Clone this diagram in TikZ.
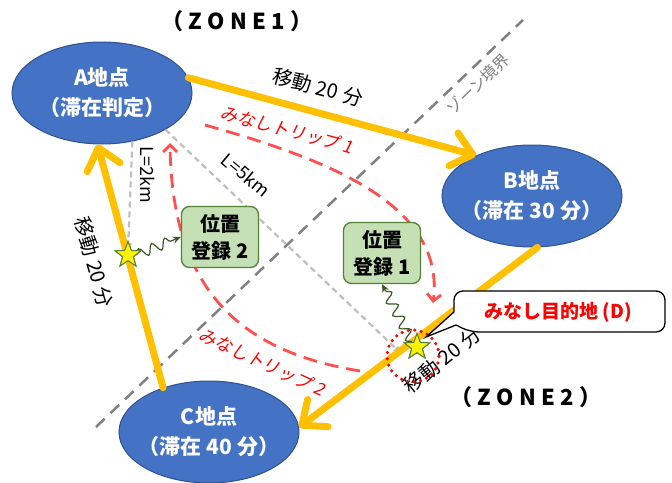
\documentclass[tikz,border=0pt]{standalone}
\usepackage{fontspec}
\setmainfont{Noto Sans CJK JP}
\newfontfamily\jpsl[FakeSlant=0.18]{Noto Sans CJK JP}
\newfontfamily\jpsp[LetterSpace=25]{Noto Sans CJK JP}
\usetikzlibrary{arrows.meta,shapes.geometric,decorations.pathmorphing}
\definecolor{ellfill}{HTML}{4472C4}
\definecolor{elldraw}{HTML}{2F528F}
\definecolor{moveyellow}{HTML}{FFC000}
\definecolor{boxfill}{HTML}{C5E0B4}
\definecolor{boxdraw}{HTML}{548235}
\definecolor{snakegreen}{HTML}{385723}
\definecolor{tripred}{HTML}{FF5050}
\definecolor{zonegray}{HTML}{808080}
\definecolor{lgray}{HTML}{BFBFBF}
\newcommand{\gap}{\hspace{5pt}}
\begin{document}
\begin{tikzpicture}[x=1pt,y=-1pt,
  place/.style={ellipse, fill=ellfill, draw=elldraw, line width=1pt, minimum width=180pt, minimum height=102pt, inner xsep=-20pt, inner ysep=0pt, text=white, font=\bfseries\fontsize{21}{30}\selectfont, align=center},
  regbox/.style={rectangle, rounded corners=8pt, fill=boxfill, draw=boxdraw, line width=1.3pt, minimum width=77pt, minimum height=61pt, inner sep=0pt, font=\bfseries\fontsize{20}{27}\selectfont, align=center},
  starmark/.style={star, star points=5, star point ratio=2.4, fill=yellow, draw=boxdraw, line width=1pt, minimum size=27pt, inner sep=0pt},
  move/.style={draw=moveyellow, line width=7pt, line cap=round, line join=round, -{Straight Barb[length=20pt,width=34pt,line cap=round,line join=round]}},
  movelabel/.style={font=\fontsize{20}{23}\selectfont, inner sep=0pt},
  zoneline/.style={draw=zonegray, line width=2.5pt, dash pattern=on 12pt off 8pt},
  distline/.style={draw=lgray, line width=2.2pt, dash pattern=on 6pt off 4pt, -{Triangle[length=7pt,width=7pt]}},
  trip/.style={draw=tripred, line width=2.8pt, dash pattern=on 14pt off 8pt, -{Straight Barb[length=7pt,width=14pt]}},
  triplabel/.style={text=red, font=\jpsl\fontsize{17.5}{19}\selectfont, inner sep=0pt},
  wave/.style={draw=snakegreen, line width=1.2pt, decorate, decoration={snake, amplitude=5pt, segment length=14pt, post length=6pt}, -{Stealth[length=8pt,width=7pt]}},
  title/.style={font=\jpsp\bfseries\fontsize{22}{24}\selectfont, inner sep=0pt}
]
\useasboundingbox (0,0) rectangle (672,482);

% zone boundary
\coordinate (zt) at (523,20);
\coordinate (zb) at (96,427);
\draw[zoneline] (zb) -- (zt);
\node[text=zonegray, font=\fontsize{16}{18}\selectfont, rotate=44, inner sep=0pt] (zl) at (478,84) {ゾーン境界};

% places
\node[place] (A) at (102,93) {A地点\\（滞在判定）};
\node[place] (B) at (532,196) {B地点\\（滞在\gap 30\gap 分）};
\node[place] (C) at (209,432) {C地点\\（滞在\gap 40\gap 分）};

% stars
\node[starmark] (s2) at (128,255) {};
\node[starmark] (s1) at (417,347) {};

% distance lines
\draw[distline] (A.-58) -- ([yshift=-10pt]s2.north);
\draw[distline] (A.-30) -- ([shift={(-8pt,-6pt)}]s1.west);
\node[font=\fontsize{18}{20}\selectfont, rotate=-90, inner sep=0pt] (l2) at (148,175) {L=2km};
\node[font=\fontsize{18}{20}\selectfont, rotate=-40, inner sep=0pt] (l5) at (246,175) {L=5km};

% trips
\coordinate (t1s) at (205,125);
\coordinate (t1e) at (433,303);
\draw[trip] (t1s) .. controls (330,160) and (445,205) .. (t1e);
\node[triplabel, rotate=-15] (tl1) at (287,130) {みなしトリップ 1};
\coordinate (t2s) at (360,371);
\coordinate (t2e) at (170,143);
\draw[trip] (t2s) .. controls (245,352) and (172,295) .. (t2e);
\node[triplabel, rotate=-25] (tl2) at (262,362) {みなしトリップ 2};

% movements
\draw[move] (A.10) -- (B.144);
\draw[move] (B.-84) -- (C.3);
\draw[move] (C.136) -- (A.-95);
\node[movelabel, rotate=-15] (m1) at (318,87) {移動\gap 20\gap 分};
\node[movelabel, rotate=-74] (m3) at (94,262) {移動\gap 20\gap 分};
\node[movelabel, rotate=39] (m2) at (442,360) {移動\gap 20\gap 分};

% registration boxes
\node[regbox] (r2) at (220,237) {位置\\登録 2};
\node[regbox] (r1) at (382,253) {位置\\登録 1};
\draw[wave] (s2.east) -- (r2.west);
\draw[wave] (s1.north west) -- (r1.south);

% stars redrawn on top
\node[starmark] at (s2) {};
\node[starmark] at (s1) {};

% destination ring
\node[circle, draw=red, line width=3.5pt, line cap=round, dash pattern=on 0pt off 6.5pt, minimum size=52pt, inner sep=0pt] (ring) at (413,356) {};

% callout
\coordinate (tip) at (426,337);
\draw[fill=white, line width=1.3pt, rounded corners=9pt] (454,312) -- (454,291) -- (665,291) -- (665,332) -- (470,332) [sharp corners] -- (456,325) -- (tip) -- cycle;
\node[text=red, font=\bfseries\fontsize{19}{21}\selectfont, inner sep=0pt] (D) at (558,312) {みなし目的地 (D)};

% titles
\node[title] (z1) at (237,21) {（ZONE1）};
\node[title] (z2) at (526,397) {（ZONE2）};
\end{tikzpicture}
\end{document}
